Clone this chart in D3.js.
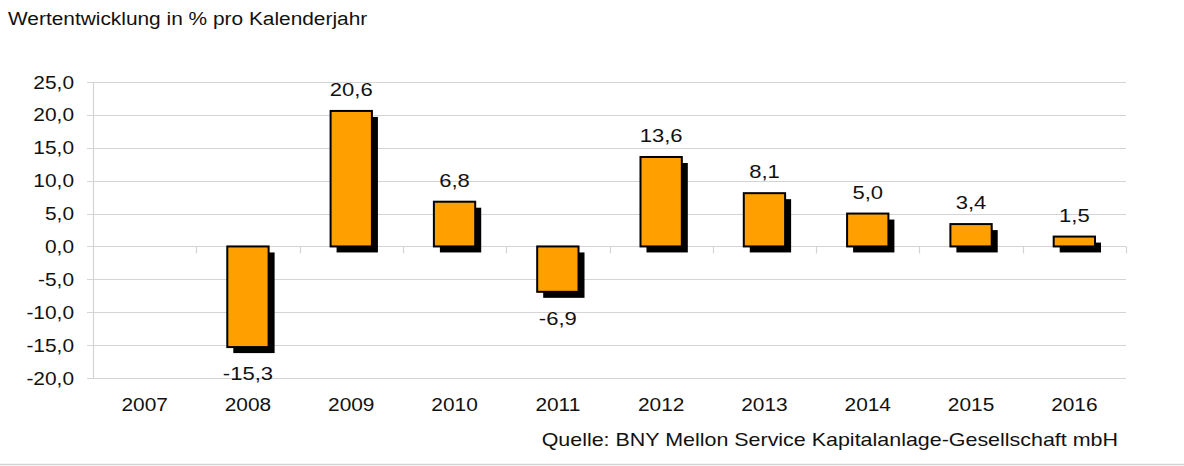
<!DOCTYPE html>
<html>
<head>
<meta charset="utf-8">
<script src="https://cdnjs.cloudflare.com/ajax/libs/d3/7.8.5/d3.min.js"></script>
<style>
	body { margin: 0; background: #fff; }
	svg { font-family: "Liberation Sans", Arial, sans-serif; }
</style>
</head>
<body>
<div id="chart"></div>
<script>
// Wertentwicklung pro Kalenderjahr
var years  = ["2007", "2008", "2009", "2010", "2011", "2012", "2013", "2014", "2015", "2016"];
var values = [null, -15.3, 20.6, 6.8, -6.9, 13.6, 8.1, 5.0, 3.4, 1.5];
var yTicks = [-20, -15, -10, -5, 0, 5, 10, 15, 20, 25];

var W = 1184, H = 466;
var plotLeft = 93, plotRight = 1126, plotTop = 82, plotBottom = 378;
var sx = 1.16; // glyphs in the original are a bit wider than Arial

// German style: comma decimal, plain hyphen as minus
var fmt = function (v) { return v.toFixed(1).replace(".", ","); };
var tr = function (px, py) { return "translate(" + px + "," + py + ") scale(" + sx + ",1)"; };

var svg = d3.select("#chart").append("svg")
	.attr("width", W)
	.attr("height", H);

var x = d3.scaleBand().domain(years).range([plotLeft, plotRight]).paddingInner(0.6).paddingOuter(0.3);
var xb = d3.scaleBand().domain(years).range([plotLeft, plotRight]);
var y = d3.scaleLinear().domain([-20, 25]).range([plotBottom, plotTop]);

// title
svg.append("text")
	.attr("transform", tr(8, 25))
	.attr("font-size", 18)
	.attr("fill", "#111")
	.text("Wertentwicklung in % pro Kalenderjahr");

// gridlines
svg.append("g").selectAll("line")
	.data(yTicks)
	.enter().append("line")
	.attr("x1", plotLeft - 6).attr("x2", plotRight)
	.attr("y1", function (d) { return Math.round(y(d)) + 0.5; })
	.attr("y2", function (d) { return Math.round(y(d)) + 0.5; })
	.attr("stroke", "#d4d4d4").attr("stroke-width", 1.2);

// y axis line
svg.append("line")
	.attr("x1", plotLeft + 0.5).attr("x2", plotLeft + 0.5)
	.attr("y1", plotTop).attr("y2", plotBottom)
	.attr("stroke", "#d4d4d4").attr("stroke-width", 1.2);

// x ticks at category boundaries, hanging below zero line
var bounds = years.map(function (d) { return xb(d) + xb.bandwidth(); });
svg.append("g").selectAll("line")
	.data(bounds)
	.enter().append("line")
	.attr("x1", function (d) { return Math.round(d) + 0.5; })
	.attr("x2", function (d) { return Math.round(d) + 0.5; })
	.attr("y1", y(0)).attr("y2", y(0) + 7)
	.attr("stroke", "#d4d4d4").attr("stroke-width", 1.2);

// y labels
svg.append("g").selectAll("text")
	.data(yTicks)
	.enter().append("text")
	.attr("transform", function (d) { return tr(74, y(d) + 6.5); })
	.attr("text-anchor", "end")
	.attr("font-size", 18)
	.attr("fill", "#111")
	.text(fmt);

// x labels
svg.append("g").selectAll("text")
	.data(years)
	.enter().append("text")
	.attr("transform", function (d) { return tr(xb(d) + xb.bandwidth() / 2, 411); })
	.attr("text-anchor", "middle")
	.attr("font-size", 18)
	.attr("fill", "#111")
	.text(function (d) { return d; });

var data = years.map(function (d, i) { return { year: d, v: values[i] }; })
	.filter(function (d) { return d.v !== null; });

var off = 6;

// shadows
svg.append("g").selectAll("rect")
	.data(data)
	.enter().append("rect")
	.attr("x", function (d) { return x(d.year) + off; })
	.attr("y", function (d) { return Math.min(y(d.v), y(0)) + off; })
	.attr("width", x.bandwidth())
	.attr("height", function (d) { return Math.abs(y(d.v) - y(0)); })
	.attr("fill", "#000");

// bars
svg.append("g").selectAll("rect")
	.data(data)
	.enter().append("rect")
	.attr("x", function (d) { return x(d.year); })
	.attr("y", function (d) { return Math.min(y(d.v), y(0)); })
	.attr("width", x.bandwidth())
	.attr("height", function (d) { return Math.abs(y(d.v) - y(0)); })
	.attr("fill", "#ffa000")
	.attr("stroke", "#000")
	.attr("stroke-width", 2);

// value labels
svg.append("g").selectAll("text")
	.data(data)
	.enter().append("text")
	.attr("transform", function (d) {
		return tr(x(d.year) + x.bandwidth() / 2, d.v >= 0 ? y(d.v) - 15 : y(d.v) + 33);
	})
	.attr("text-anchor", "middle")
	.attr("font-size", 19)
	.attr("fill", "#111")
	.text(function (d) { return fmt(d.v); });

// source
svg.append("text")
	.attr("transform", tr(1118, 446))
	.attr("text-anchor", "end")
	.attr("font-size", 18.5)
	.attr("fill", "#111")
	.text("Quelle: BNY Mellon Service Kapitalanlage-Gesellschaft mbH");

// bottom rule
svg.append("line")
	.attr("x1", 0).attr("x2", W)
	.attr("y1", 464.5).attr("y2", 464.5)
	.attr("stroke", "#d4d4d4").attr("stroke-width", 1.5);
</script>
</body>
</html>
